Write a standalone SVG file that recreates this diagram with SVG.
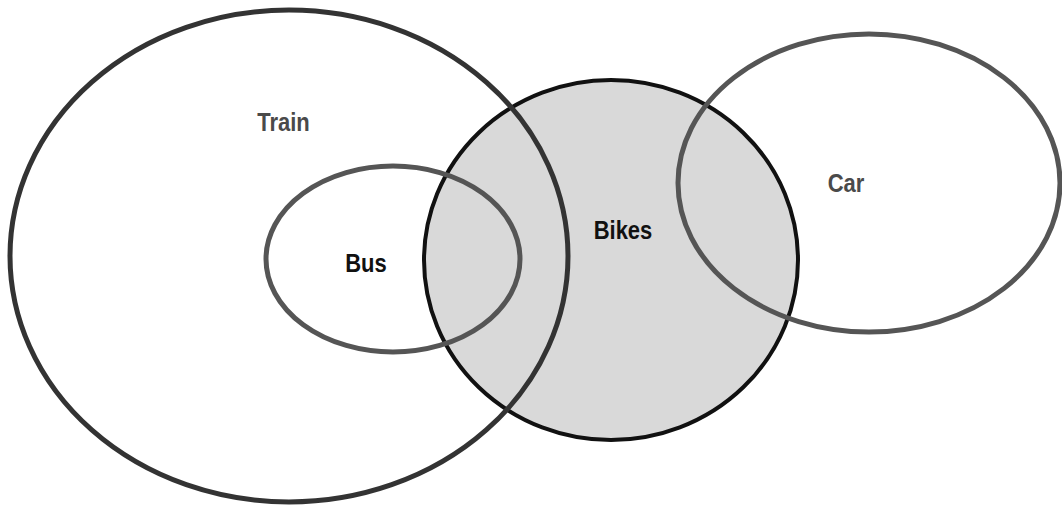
<svg xmlns="http://www.w3.org/2000/svg" width="1062" height="506" viewBox="0 0 1062 506">
  <style>
    .set { fill: none; stroke-width: 5; }
    .label { font-family: "Liberation Sans", Arial, sans-serif; font-size: 22px; font-weight: bold; text-anchor: middle; }
    .light { fill: #4a4a4a; }
    .strong { fill: #111; }
  </style>
  <rect width="1062" height="506" fill="#ffffff"/>
  <g id="bikes">
    <ellipse cx="611" cy="260" rx="187" ry="180" fill="#d9d9d9" stroke="#111" stroke-width="4"/>
  </g>
  <g id="train">
    <ellipse class="set" cx="289" cy="256" rx="279" ry="246" stroke="#333"/>
  </g>
  <g id="bus">
    <ellipse class="set" cx="393" cy="259" rx="127" ry="93" stroke="#555"/>
  </g>
  <g id="car">
    <ellipse class="set" cx="869" cy="183" rx="191" ry="149" stroke="#555"/>
  </g>
  <g id="labels">
    <text class="label light" transform="translate(283.5 131) scale(1 1.15)">Train</text>
    <text class="label strong" transform="translate(366 272) scale(1 1.15)">Bus</text>
    <text class="label strong" transform="translate(623 239) scale(1 1.15)">Bikes</text>
    <text class="label light" transform="translate(846 192) scale(1 1.15)">Car</text>
  </g>
</svg>
